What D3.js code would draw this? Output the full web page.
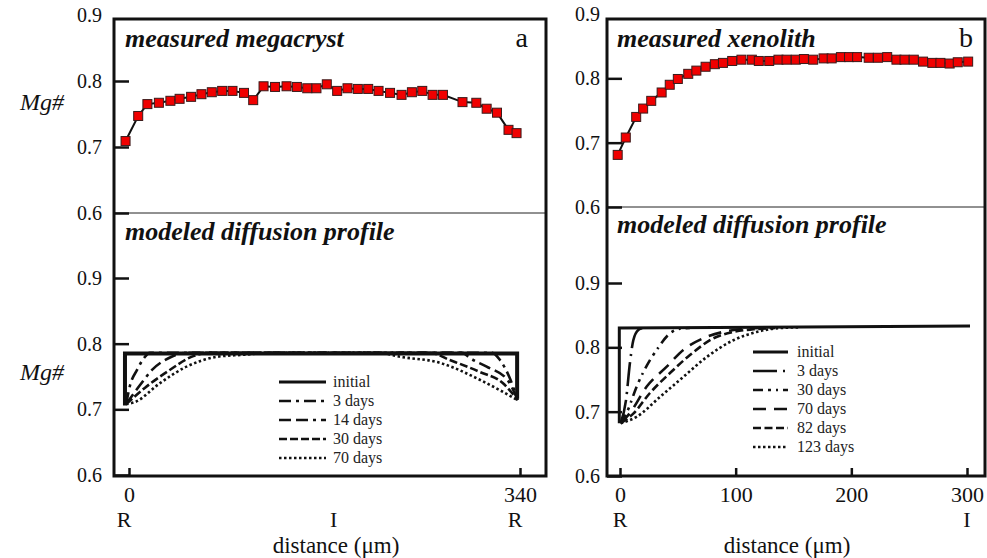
<!DOCTYPE html>
<html><head><meta charset="utf-8">
<script src="https://cdn.jsdelivr.net/npm/d3@7"></script>
<style>html,body{margin:0;padding:0;background:#fff;} svg{display:block;}</style>
</head><body><svg id="chart" width="987" height="558"></svg>
<script>
// ---------------- DATA ----------------
const yTickValues = [0.6, 0.7, 0.8, 0.9];
const xTicksA = [0, 340];
const xTicksB = [0, 100, 200, 300];
const positionLabelsA = [["R", 0], ["I", 178], ["R", 340]];
const positionLabelsB = [["R", 0], ["I", 300]];

// measured megacryst (panel a, top)
const megacrystDistance = [-3, 8, 16, 26, 36, 44, 54, 63, 72, 81, 90, 100, 108, 117, 127, 137, 146, 155, 163, 172, 181, 190, 199, 208, 217, 227, 237, 246, 255, 264, 273, 290, 302, 311, 320, 330, 337];
const megacrystMg = [0.709, 0.747, 0.765, 0.767, 0.770, 0.773, 0.776, 0.780, 0.783, 0.785, 0.785, 0.782, 0.771, 0.792, 0.791, 0.792, 0.791, 0.789, 0.789, 0.795, 0.785, 0.789, 0.788, 0.788, 0.785, 0.782, 0.779, 0.783, 0.785, 0.779, 0.779, 0.768, 0.767, 0.758, 0.752, 0.726, 0.721];

// measured xenolith (panel b, top)
const xenolithDistance = [-2, 5, 14, 20, 27, 36, 43, 50, 59, 66, 74, 82, 89, 97, 105, 114, 120, 129, 137, 144, 152, 159, 167, 176, 183, 191, 198, 205, 215, 223, 231, 239, 246, 254, 262, 270, 277, 285, 292, 301];
const xenolithMg = [0.681, 0.708, 0.740, 0.753, 0.765, 0.778, 0.790, 0.799, 0.807, 0.812, 0.818, 0.822, 0.824, 0.827, 0.829, 0.829, 0.827, 0.827, 0.829, 0.829, 0.829, 0.830, 0.829, 0.831, 0.831, 0.833, 0.833, 0.833, 0.832, 0.832, 0.833, 0.829, 0.829, 0.829, 0.826, 0.824, 0.824, 0.823, 0.825, 0.826];

// modeled megacryst profiles [distance, Mg#]
const megaLabels = ["initial", "3 days", "14 days", "30 days", "70 days"];
const megaInitial = [[-3.5, 0.706], [-3.5, 0.785], [337.5, 0.785], [337.5, 0.716]];
const mega3d = [[-2.5, 0.708], [1, 0.737], [7, 0.760], [13, 0.778], [18, 0.786], [316, 0.786], [322.6, 0.775], [331, 0.748], [338, 0.714]];
const mega14d = [[-2.5, 0.708], [9.6, 0.737], [20, 0.760], [37, 0.780], [49, 0.786], [290, 0.786], [296.5, 0.778], [311, 0.765], [329, 0.745], [338, 0.714]];
const mega30d = [[-2.5, 0.708], [14, 0.733], [33, 0.757], [56, 0.781], [70, 0.786], [262, 0.786], [279, 0.775], [305, 0.757], [325, 0.740], [338, 0.714]];
const mega70d = [[-2.5, 0.708], [5, 0.711], [27, 0.740], [50, 0.765], [76.5, 0.780], [99, 0.783], [123, 0.786], [218, 0.786], [236, 0.780], [270, 0.771], [305, 0.745], [322.6, 0.729], [338, 0.714]];

// modeled xenolith profiles [distance, Mg#]
const xenoLabels = ["initial", "3 days", "30 days", "70 days", "82 days", "123 days"];
const xenoInitial = [[-0.6, 0.682], [-0.6, 0.830], [302.6, 0.833]];
const xeno3d = [[0.6, 0.682], [5.2, 0.718], [8.6, 0.776], [11.5, 0.811], [15.8, 0.827], [19.9, 0.830]];
const xeno30d = [[0.6, 0.682], [6.9, 0.703], [14.4, 0.739], [25.9, 0.780], [32.9, 0.799], [41.5, 0.819], [51.9, 0.829], [60.5, 0.830]];
const xeno70d = [[0.6, 0.682], [8.6, 0.698], [23.1, 0.739], [40.4, 0.770], [54.7, 0.796], [72, 0.814], [89.3, 0.824], [103.7, 0.828], [121, 0.830]];
const xeno82d = [[0.6, 0.682], [11.5, 0.697], [25.9, 0.729], [43.2, 0.760], [60.5, 0.788], [80.7, 0.814], [98, 0.824], [115.2, 0.828], [134, 0.830]];
const xeno123d = [[0.6, 0.682], [14.4, 0.692], [34.6, 0.723], [54.7, 0.754], [75, 0.785], [98, 0.811], [118.2, 0.824], [138.3, 0.830], [155.6, 0.831]];

// ---------------- DRAWING ----------------
const FONT = "Liberation Serif, Times New Roman, Times, serif";
const svg = d3.select("#chart").attr("font-family", FONT);
svg.append("rect").attr("width", 987).attr("height", 558).attr("fill", "#fff");

function drawPanel(cfg) {
  const g = svg.append("g");
  const x = d3.scaleLinear().domain(cfg.xDomain).range(cfg.xRange);
  const yTop = d3.scaleLinear().domain([0.6, 0.9]).range(cfg.yTopRange);
  const yBot = d3.scaleLinear().domain([0.6, 0.9]).range(cfg.yBotRange);

  // divider
  g.append("line").attr("x1", cfg.left).attr("x2", cfg.right)
    .attr("y1", yTop(0.6)).attr("y2", yTop(0.6))
    .attr("stroke", "#222").attr("stroke-width", 1);

  // axes
  const fmt = d3.format(".1f");
  function styleAxis(sel, fs) {
    sel.attr("font-family", FONT).attr("font-size", fs);
    sel.select(".domain").remove();
    sel.selectAll(".tick line").attr("stroke", "#111").attr("stroke-width", 2.5);
    sel.selectAll(".tick text").attr("fill", "#111").attr("font-family", FONT).attr("font-size", fs);
  }
  const gyT = g.append("g").attr("transform", `translate(${cfg.left},0)`)
    .call(d3.axisLeft(yTop).tickValues(yTickValues).tickSize(-15).tickPadding(cfg.yPad).tickFormat(fmt));
  styleAxis(gyT, 20);
  gyT.selectAll(".tick").filter(d => d === 0.9).select("line").remove();
  const gyB = g.append("g").attr("transform", `translate(${cfg.left},0)`)
    .call(d3.axisLeft(yBot).tickValues(yTickValues).tickSize(-15).tickPadding(cfg.yPad).tickFormat(fmt));
  styleAxis(gyB, 20);
  const gx = g.append("g").attr("transform", `translate(0,${cfg.bottom})`)
    .call(d3.axisBottom(x).tickValues(cfg.xTicks).tickSize(-8).tickPadding(10).tickFormat(d3.format("d")));
  styleAxis(gx, 22);

  // frame
  g.append("rect").attr("x", cfg.left).attr("y", cfg.top)
    .attr("width", cfg.right - cfg.left).attr("height", cfg.bottom - cfg.top)
    .attr("fill", "none").attr("stroke", "#111").attr("stroke-width", 3);

  // position labels (R / I)
  g.selectAll(".pos").data(cfg.posLabels).enter().append("text")
    .attr("x", d => x(d[1]) + (d[0] === "R" ? cfg.rShift : 0)).attr("y", 527)
    .attr("text-anchor", "middle").attr("font-size", 22)
    .attr("fill", "#111").text(d => d[0]);
  g.append("text").attr("x", cfg.distX).attr("y", 553).attr("text-anchor", "middle")
    .attr("font-size", 23).attr("fill", "#111").text("distance (μm)");

  // titles
  const titleStyle = s => s.attr("font-size", 26)
    .attr("font-weight", "bold").attr("font-style", "italic").attr("fill", "#111");
  g.append("text").attr("x", cfg.left + cfg.titleOff).attr("y", 47).text(cfg.titleTop).call(titleStyle);
  g.append("text").attr("x", cfg.left + cfg.titleOff).attr("y", cfg.titleBotY).text("modeled diffusion profile").call(titleStyle);
  g.append("text").attr("x", cfg.letterX).attr("y", 47).attr("text-anchor", "end")
    .attr("font-size", 28).attr("fill", "#111").text(cfg.letter);

  // measured data
  const pts = cfg.mx.map((d, i) => [d, cfg.my[i]]);
  g.append("path").datum(pts)
    .attr("d", d3.line().x(d => x(d[0])).y(d => yTop(d[1])))
    .attr("fill", "none").attr("stroke", "#111").attr("stroke-width", 2);
  const s = 9;
  g.selectAll(".pt").data(pts).enter().append("rect")
    .attr("x", d => x(d[0]) - s / 2).attr("y", d => yTop(d[1]) - s / 2)
    .attr("width", s).attr("height", s)
    .attr("fill", "#f00000").attr("stroke", "#3a1a1a").attr("stroke-width", 1);

  // models
  const smooth = d3.line().x(d => x(d[0])).y(d => yBot(d[1])).curve(d3.curveMonotoneX);
  const straight = d3.line().x(d => x(d[0])).y(d => yBot(d[1]));
  cfg.models.forEach((m, i) => {
    if (i === 0) return;
    g.append("path").datum(m).attr("d", smooth).attr("fill", "none")
      .attr("stroke", "#111").attr("stroke-width", 2.6)
      .attr("stroke-dasharray", cfg.dashes[i]);
  });
  g.append("path").datum(cfg.models[0]).attr("d", straight).attr("fill", "none")
    .attr("stroke", "#111").attr("stroke-width", cfg.initW);

  // legend
  cfg.legLabels.forEach((lab, i) => {
    const yy = cfg.legY0 + i * cfg.legDy;
    g.append("line").attr("x1", cfg.legX1).attr("x2", cfg.legX2).attr("y1", yy).attr("y2", yy)
      .attr("stroke", "#111").attr("stroke-width", i === 0 ? 3 : 2.6)
      .attr("stroke-dasharray", cfg.dashes[i]);
    g.append("text").attr("x", cfg.legTextX).attr("y", yy + 5)
      .attr("font-size", 16).attr("fill", "#222").text(lab);
  });

  // Mg# label
  if (cfg.mgLabel) {
    [110, 380].forEach(yy => g.append("text").attr("x", 20).attr("y", yy)
      .attr("font-size", 24).attr("font-style", "italic")
      .attr("fill", "#111").text("Mg#"));
  }
}

drawPanel({
  left: 114, right: 546, top: 19, bottom: 476,
  xDomain: [0, 340], xRange: [129, 520],
  yTopRange: [213, 15], yBotRange: [475, 278],
  yPad: 12, xTicks: xTicksA, posLabels: positionLabelsA, rShift: -5, distX: 336,
  titleTop: "measured megacryst", titleOff: 11, titleBotY: 240, letter: "a", letterX: 528,
  mx: megacrystDistance, my: megacrystMg,
  models: [megaInitial, mega3d, mega14d, mega30d, mega70d],
  dashes: [null, "12,5,3,5", "12,5,12,5,3,5", "8,3", "2.5,2.5"],
  initW: 4,
  legLabels: megaLabels, legX1: 279, legX2: 326, legTextX: 333, legY0: 382, legDy: 19,
  mgLabel: true
});

drawPanel({
  left: 607, right: 985, top: 19, bottom: 476,
  xDomain: [0, 300], xRange: [620, 967],
  yTopRange: [207, 14], yBotRange: [476, 283],
  yPad: 7, xTicks: xTicksB, posLabels: positionLabelsB, rShift: 0, distX: 787,
  titleTop: "measured xenolith", titleOff: 10, titleBotY: 233, letter: "b", letterX: 973,
  mx: xenolithDistance, my: xenolithMg,
  models: [xenoInitial, xeno3d, xeno30d, xeno70d, xeno82d, xeno123d],
  dashes: [null, "24,6,2,6", "10,5,3,5,2,5", "13,8", "8,3.5", "2.5,2.5"],
  initW: 3,
  legLabels: xenoLabels, legX1: 753, legX2: 788, legTextX: 797, legY0: 352, legDy: 19,
  mgLabel: false
});
</script></body></html>
